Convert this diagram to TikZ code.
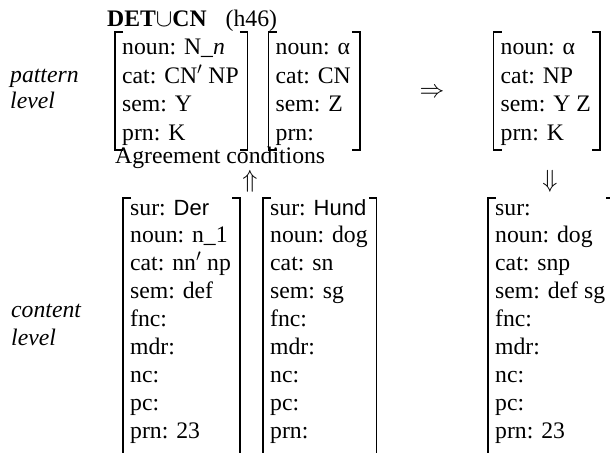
\documentclass[tikz,border=0pt]{standalone}
\usepackage{fontspec}
\setmainfont{Liberation Serif}
\setsansfont{Liberation Sans}
\usetikzlibrary{matrix}

\tikzset{
  txt/.style={font=\fontsize{23.7bp}{28.5bp}\selectfont, inner sep=0pt},
  lab/.style={font=\fontsize{23.7bp}{28.5bp}\selectfont\itshape, inner sep=0pt, anchor=base west},
  avm/.style={matrix of nodes, inner xsep=7bp, inner ysep=0pt, row sep=5.4bp,
    nodes={txt, anchor=base west, text height=17bp, text depth=6bp}},
  brk/.style={line width=1.2bp}
}

% square brackets around an attribute-value matrix: node, top y, bottom y
\newcommand\avmbrackets[3]{%
  \draw[brk] ([xshift=8bp]#1.west |- 0,#2) -- (#1.west |- 0,#2)
    -- (#1.west |- 0,#3) -- ([xshift=8bp]#1.west |- 0,#3);
  \draw[brk] ([xshift=-6bp]#1.east |- 0,#2) -- ([xshift=2bp]#1.east |- 0,#2)
    -- ([xshift=2bp]#1.east |- 0,#3) -- ([xshift=-6bp]#1.east |- 0,#3);
}

\begin{document}
\begin{tikzpicture}[x=1bp, y=-1bp]
\useasboundingbox (0,0) rectangle (610,453);
\clip (0,0) rectangle (610,453);

% rule name
\node[txt, anchor=base west] (title) at (107,27)
  {\textbf{DET}$\cup$\textbf{CN}\hspace{19bp}(h46)};

% level labels
\node[lab] (patl1) at (10,83) {pattern};
\node[lab] (patl2) at (10,109) {level};
\node[lab] (conl1) at (11,317) {content};
\node[lab] (conl2) at (11,345) {level};

% pattern level
\matrix (p1) [avm, matrix anchor=p1-1-1.base west] at (122,55) {
  noun: N\_\textit{n} \\
  cat: CN$'$ NP \\
  sem: Y \\
  prn: K \\
};
\avmbrackets{p1}{32}{150}

\matrix (p2) [avm, matrix anchor=p2-1-1.base west] at (275.5,55) {
  noun: α \\
  cat: CN \\
  sem: Z \\
  prn: \\
};
\avmbrackets{p2}{32}{150}

\matrix (p3) [avm, matrix anchor=p3-1-1.base west] at (500.5,55) {
  noun: α \\
  cat: NP \\
  sem: Y Z \\
  prn: K \\
};
\avmbrackets{p3}{32}{150}

\node[txt] (yields) at (432,93) {$\Rightarrow$};

\node[txt, anchor=base west] (agree) at (115,164) {Agreement conditions};
\node[txt] (up) at (250,181) {$\Uparrow$};
\node[txt] (down) at (550,181) {$\Downarrow$};

% content level
\matrix (c1) [avm, row sep=4.9bp, matrix anchor=c1-1-1.base west] at (130,215) {
  sur: {\sffamily\fontsize{22bp}{28bp}\selectfont Der} \\
  noun: n\_1 \\
  cat: nn$'$ np \\
  sem: def \\
  fnc: \\
  mdr: \\
  nc: \\
  pc: \\
  prn: 23 \\
};
\avmbrackets{c1}{198}{475}

\matrix (c2) [avm, row sep=4.9bp, matrix anchor=c2-1-1.base west] at (270,215) {
  sur: {\sffamily\fontsize{22bp}{28bp}\selectfont Hund} \\
  noun: dog \\
  cat: sn \\
  sem: sg \\
  fnc: \\
  mdr: \\
  nc: \\
  pc: \\
  prn: \\
};
\avmbrackets{c2}{198}{475}

\matrix (c3) [avm, row sep=4.9bp, matrix anchor=c3-1-1.base west] at (495,215) {
  sur: \\
  noun: dog \\
  cat: snp \\
  sem: def sg \\
  fnc: \\
  mdr: \\
  nc: \\
  pc: \\
  prn: 23 \\
};
\avmbrackets{c3}{198}{475}
\end{tikzpicture}
\end{document}
